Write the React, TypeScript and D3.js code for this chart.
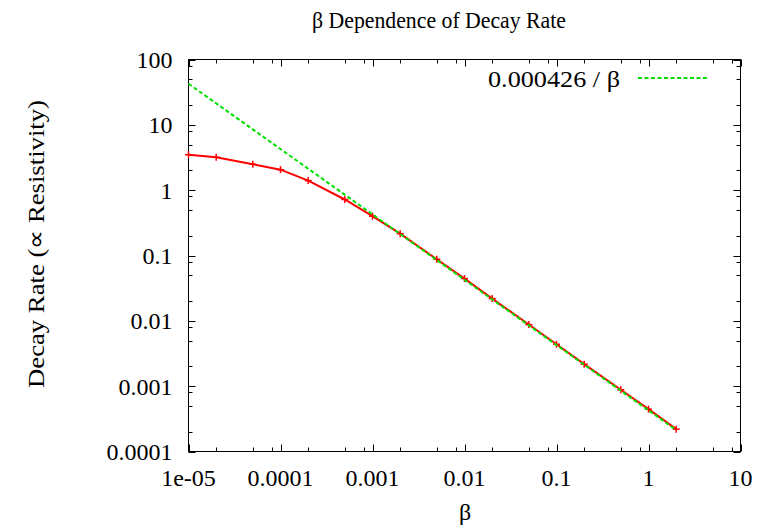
import React from "react";
import * as d3 from "d3";

const betas = [1e-5, 2e-5, 5e-5, 1e-4, 2e-4, 5e-4, 1e-3, 2e-3, 5e-3, 0.01, 0.02, 0.05, 0.1, 0.2, 0.5, 1, 2];
const rates = [3.49, 3.2, 2.5, 2.06, 1.4, 0.72, 0.4, 0.216, 0.0875, 0.0443, 0.0219, 0.00877, 0.00438, 0.00217, 0.00088, 0.000445, 0.00022];
const fitCoef = 0.000426;
const fitBetaRange = [1e-5, 2];
const xTickLabels = ["1e-05", "0.0001", "0.001", "0.01", "0.1", "1", "10"];
const yTickLabels = ["0.0001", "0.001", "0.01", "0.1", "1", "10", "100"];
const minorMultipliers = [2, 5, 8];

const W = 767;
const H = 532;
const L = 188.5, R = 740.5, T = 59.5, B = 451.5;
const CANDIDATES = ["Liberation Serif", "Times New Roman", "Tinos", "Nimbus Roman", "FreeSerif", "Noto Serif", "DejaVu Serif"];

function pickFont(): string {
  try {
    const c = document.createElement("canvas");
    const ctx = c.getContext("2d");
    if (!ctx) return "serif";
    const s = "abcdefghijklmnopqrstuvwxyzABCDEFGHIJ0123456789";
    const bases = ["monospace", "sans-serif"];
    const bw = bases.map((b) => { ctx.font = `72px ${b}`; return ctx.measureText(s).width; });
    for (const f of CANDIDATES) {
      let ok = true;
      bases.forEach((b, i) => {
        ctx.font = `72px "${f}", ${b}`;
        if (Math.abs(ctx.measureText(s).width - bw[i]) < 0.5) ok = false;
      });
      if (ok) return `"${f}", serif`;
    }
  } catch (e) {}
  return "serif";
}

export default function App() {
  const [font, setFont] = React.useState("serif");
  React.useEffect(() => { setFont(pickFont()); }, []);
  const x = d3.scaleLog().domain([1e-5, 10]).range([L, R]);
  const y = d3.scaleLog().domain([1e-4, 100]).range([B, T]);
  const xMajors = xTickLabels.map((s) => +s);
  const yMajors = yTickLabels.map((s) => +s);
  const xMinors: number[] = [];
  xMajors.slice(0, -1).forEach((d) => minorMultipliers.forEach((m) => xMinors.push(d * m)));
  const yMinors: number[] = [];
  yMajors.slice(0, -1).forEach((d) => minorMultipliers.forEach((m) => yMinors.push(d * m)));

  const pts = betas.map((b, i) => [b, rates[i]] as [number, number]);
  const line = d3.line<[number, number]>().x((d) => x(d[0])).y((d) => y(d[1]));
  const fitPts = fitBetaRange.map((b) => [b, fitCoef / b] as [number, number]);

  const red = "#ff0000";
  const green = "#00e000";
  const maj = 7, min = 4;
  const ts = { fontFamily: font, fontSize: "24px" } as React.CSSProperties;

  return (
    <svg width={W} height={H} style={{ position: "absolute", left: 0, top: 0, background: "#fff" }}>
      <rect x={0} y={0} width={W} height={H} fill="#fff" />
      <g stroke="#000" strokeWidth={1}>
        {xMajors.map((d, i) => (
          <g key={"xm" + i}>
            <line x1={Math.round(x(d)) + 0.5} x2={Math.round(x(d)) + 0.5} y1={B} y2={B - maj} />
            <line x1={Math.round(x(d)) + 0.5} x2={Math.round(x(d)) + 0.5} y1={T} y2={T + maj} />
          </g>
        ))}
        {xMinors.map((d, i) => (
          <g key={"xn" + i}>
            <line x1={Math.round(x(d)) + 0.5} x2={Math.round(x(d)) + 0.5} y1={B} y2={B - min} />
            <line x1={Math.round(x(d)) + 0.5} x2={Math.round(x(d)) + 0.5} y1={T} y2={T + min} />
          </g>
        ))}
        {yMajors.map((d, i) => (
          <g key={"ym" + i}>
            <line y1={Math.round(y(d)) + 0.5} y2={Math.round(y(d)) + 0.5} x1={L} x2={L + maj} />
            <line y1={Math.round(y(d)) + 0.5} y2={Math.round(y(d)) + 0.5} x1={R} x2={R - maj} />
          </g>
        ))}
        {yMinors.map((d, i) => (
          <g key={"yn" + i}>
            <line y1={Math.round(y(d)) + 0.5} y2={Math.round(y(d)) + 0.5} x1={L} x2={L + min} />
            <line y1={Math.round(y(d)) + 0.5} y2={Math.round(y(d)) + 0.5} x1={R} x2={R - min} />
          </g>
        ))}
        <rect x={L} y={T} width={R - L} height={B - T} fill="none" />
      </g>
      <g fill="#000">
        {xMajors.map((d, i) => (
          <text key={"xl" + i} x={x(d)} y={B + 34} textAnchor="middle" style={ts}>{xTickLabels[i]}</text>
        ))}
        {yMajors.map((d, i) => (
          <text key={"yl" + i} x={L - 16} y={y(d) + 8.5} textAnchor="end" style={ts}>{yTickLabels[i]}</text>
        ))}
      </g>
      <path d={line(pts) || ""} fill="none" stroke={red} strokeWidth={2} />
      <g stroke={red} strokeWidth={1.5}>
        {pts.map((d, i) => (
          <g key={"p" + i}>
            <line x1={x(d[0]) - 3.5} x2={x(d[0]) + 3.5} y1={y(d[1])} y2={y(d[1])} />
            <line x1={x(d[0])} x2={x(d[0])} y1={y(d[1]) - 3.5} y2={y(d[1]) + 3.5} />
          </g>
        ))}
      </g>
      <path d={line(fitPts) || ""} fill="none" stroke={green} strokeWidth={2} strokeDasharray="4,2.5" />
      <text x={620} y={86.5} textAnchor="end" fill="#000" style={ts} textLength={132} lengthAdjust="spacingAndGlyphs">0.000426 / β</text>
      <line x1={638} x2={709} y1={78} y2={78} stroke={green} strokeWidth={2} strokeDasharray="4,2.5" />
      <text x={439} y={28} textAnchor="middle" fill="#000" style={ts} textLength={254} lengthAdjust="spacingAndGlyphs">β Dependence of Decay Rate</text>
      <text x={465} y={520} textAnchor="middle" fill="#000" style={ts}>β</text>
      <text transform="translate(44,244) rotate(-90)" textAnchor="middle" fill="#000" style={ts} textLength={288} lengthAdjust="spacingAndGlyphs">Decay Rate (∝ Resistivity)</text>
    </svg>
  );
}
